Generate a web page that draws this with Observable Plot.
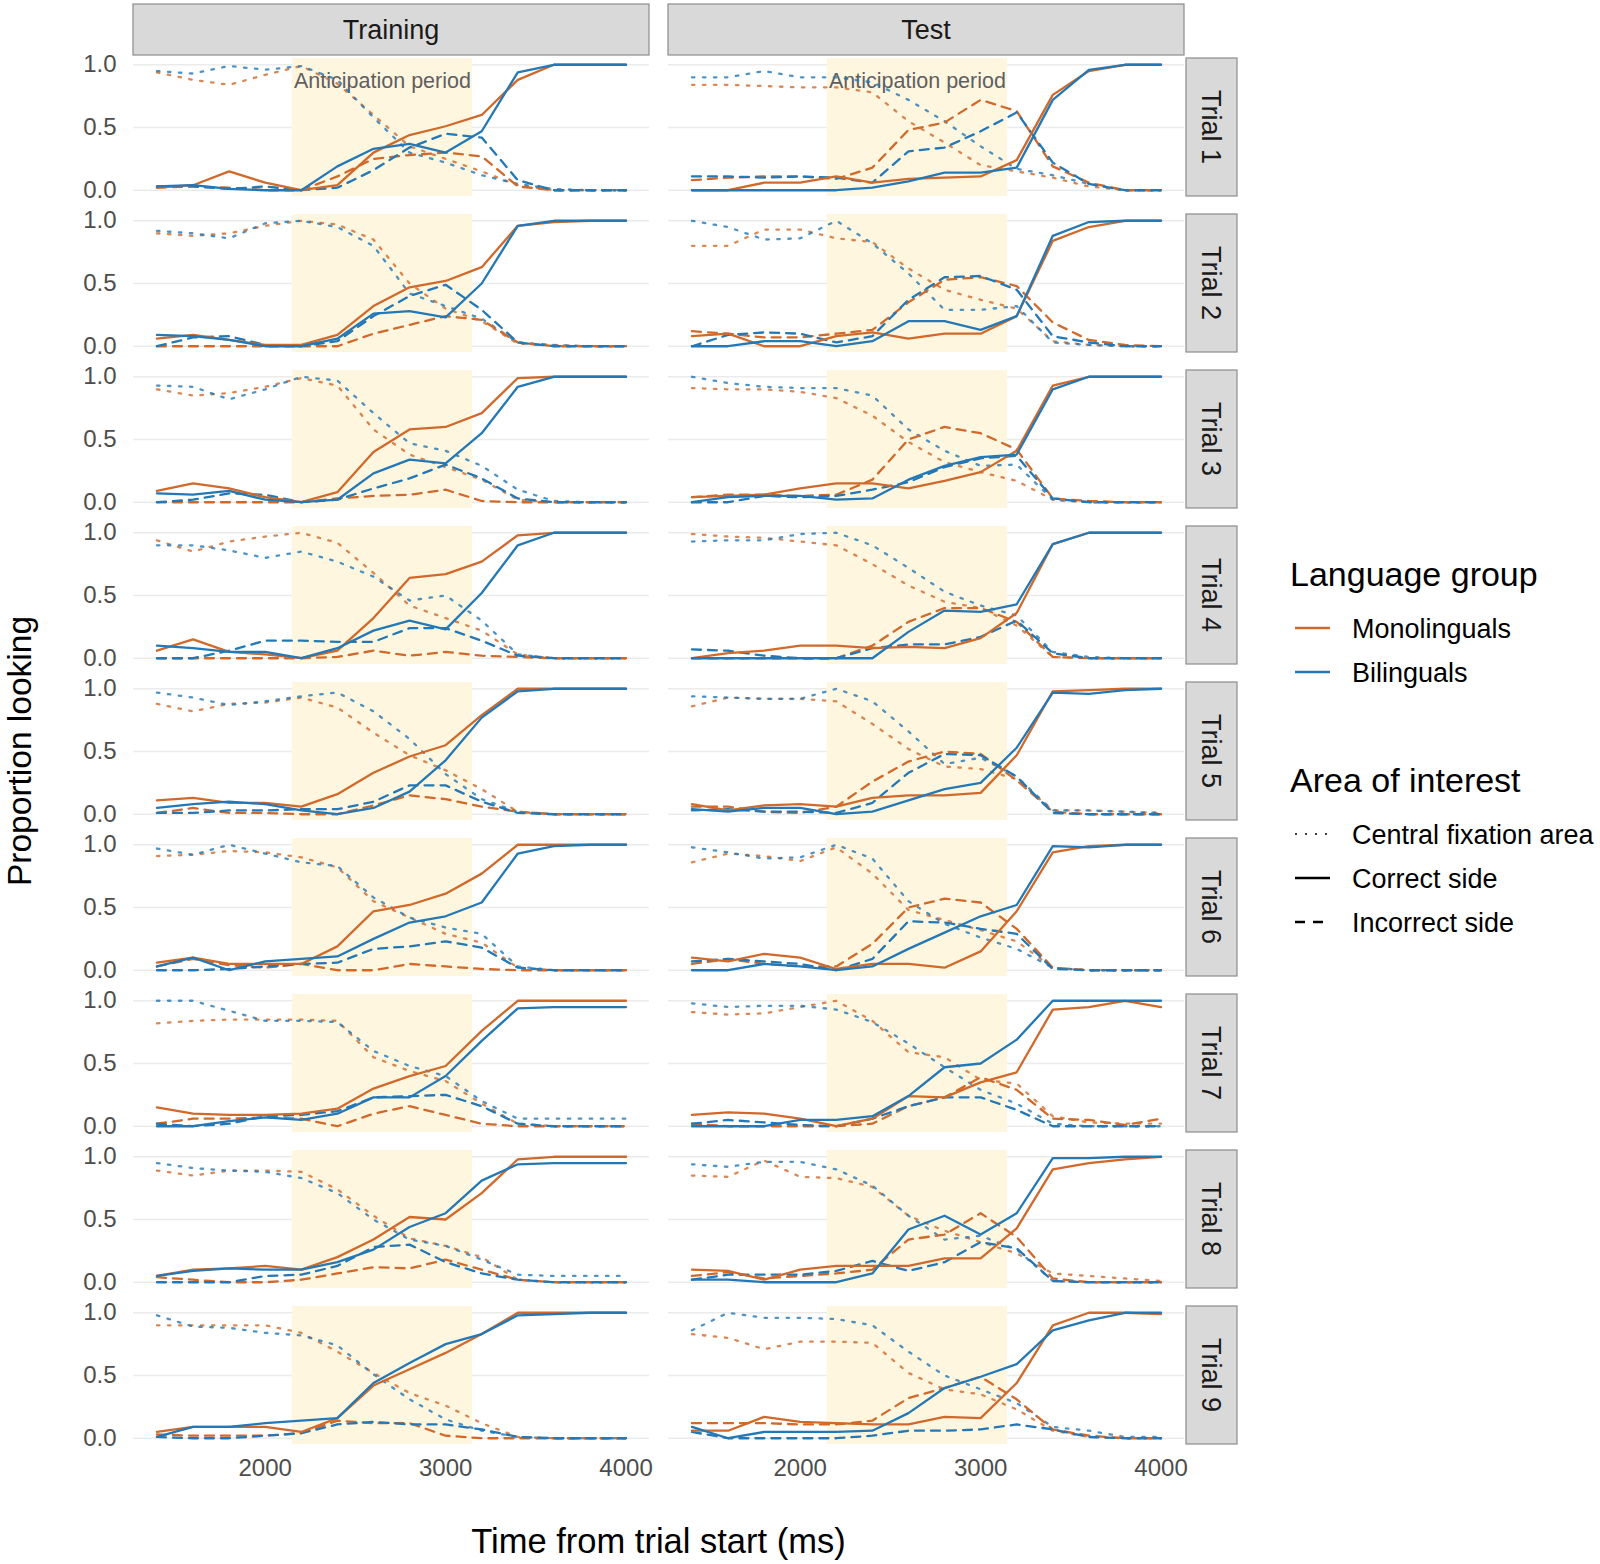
<!DOCTYPE html>
<html>
<head>
<meta charset="utf-8">
<script src="https://cdn.jsdelivr.net/npm/d3@7"></script>
<script src="https://cdn.jsdelivr.net/npm/@observablehq/plot@0.6"></script>
<style>
  body { margin: 0; background: #ffffff; }
  #chart { width: 1600px; height: 1564px; }
</style>
</head>
<body>
<div id="chart"></div>
<script>
// ---------- data ----------
const times = [1400, 1600, 1800, 2000, 2200, 2400, 2600, 2800, 3000, 3200, 3400, 3600, 3800, 4000];
const phases = ["Training", "Test"];
const trials = ["Trial 1", "Trial 2", "Trial 3", "Trial 4", "Trial 5", "Trial 6", "Trial 7", "Trial 8", "Trial 9"];
const groups = ["Monolinguals", "Bilinguals"];
const aois = ["Central fixation area", "Correct side", "Incorrect side"];
const groupColors = ["#D0692A", "#2378B5"];
const anticipationWindow = [2150, 3150];
const anticipationLabel = "Anticipation period";
const xTicks = [2000, 3000, 4000];
const yTicks = [0, 0.5, 1];

// each panel: [central Mono, central Bi, correct Mono, correct Bi, incorrect Mono, incorrect Bi]
const trainingTrial1 = [
  [0.94, 0.88, 0.84, 0.92, 0.99, 0.85, 0.60, 0.35, 0.25, 0.15, 0.04, 0, 0, 0],
  [0.95, 0.93, 0.99, 0.96, 0.99, 0.88, 0.58, 0.30, 0.22, 0.12, 0.05, 0.01, 0, 0],
  [0.02, 0.04, 0.15, 0.06, 0.00, 0.04, 0.30, 0.44, 0.51, 0.60, 0.88, 1, 1, 1],
  [0.03, 0.04, 0.01, 0.00, 0.00, 0.19, 0.33, 0.37, 0.30, 0.47, 0.94, 1, 1, 1],
  [0.02, 0.03, 0.02, 0.00, 0.00, 0.11, 0.25, 0.28, 0.30, 0.27, 0.03, 0, 0, 0],
  [0.03, 0.03, 0.01, 0.03, 0.00, 0.02, 0.16, 0.34, 0.45, 0.42, 0.08, 0, 0, 0]
];
const testTrial1 = [
  [0.84, 0.84, 0.83, 0.82, 0.82, 0.78, 0.55, 0.38, 0.20, 0.15, 0.10, 0.03, 0, 0],
  [0.90, 0.90, 0.95, 0.90, 0.90, 0.86, 0.72, 0.55, 0.35, 0.17, 0.12, 0.05, 0, 0],
  [0.00, 0.00, 0.06, 0.06, 0.11, 0.06, 0.09, 0.10, 0.11, 0.24, 0.76, 0.95, 1, 1],
  [0.00, 0.00, 0.00, 0.00, 0.00, 0.02, 0.07, 0.14, 0.14, 0.18, 0.72, 0.96, 1, 1],
  [0.08, 0.10, 0.11, 0.11, 0.09, 0.18, 0.48, 0.54, 0.72, 0.63, 0.19, 0.06, 0, 0],
  [0.11, 0.11, 0.10, 0.11, 0.10, 0.06, 0.31, 0.34, 0.47, 0.62, 0.22, 0.05, 0, 0]
];
const trainingTrial2 = [
  [0.90, 0.88, 0.90, 0.96, 1.00, 0.97, 0.85, 0.50, 0.30, 0.20, 0.02, 0.01, 0, 0],
  [0.92, 0.90, 0.86, 0.98, 1.00, 0.95, 0.80, 0.42, 0.32, 0.22, 0.03, 0.01, 0, 0],
  [0.06, 0.09, 0.05, 0.01, 0.01, 0.09, 0.32, 0.47, 0.52, 0.63, 0.96, 0.99, 1, 1],
  [0.09, 0.08, 0.05, 0.00, 0.00, 0.06, 0.26, 0.28, 0.23, 0.50, 0.96, 1, 1, 1],
  [0.00, 0.00, 0.00, 0.00, 0.00, 0.00, 0.10, 0.17, 0.24, 0.21, 0.03, 0, 0, 0],
  [0.00, 0.07, 0.08, 0.01, 0.00, 0.04, 0.24, 0.40, 0.49, 0.29, 0.03, 0, 0, 0]
];
const testTrial2 = [
  [0.80, 0.80, 0.93, 0.93, 0.86, 0.83, 0.62, 0.45, 0.37, 0.30, 0.04, 0.01, 0, 0],
  [1.00, 0.95, 0.85, 0.86, 1.00, 0.82, 0.58, 0.29, 0.29, 0.32, 0.03, 0.01, 0, 0],
  [0.08, 0.10, 0.00, 0.00, 0.08, 0.11, 0.06, 0.10, 0.10, 0.24, 0.84, 0.95, 1, 1],
  [0.00, 0.00, 0.04, 0.04, 0.00, 0.04, 0.20, 0.20, 0.13, 0.24, 0.88, 0.99, 1, 1],
  [0.12, 0.10, 0.07, 0.07, 0.10, 0.13, 0.35, 0.53, 0.55, 0.48, 0.19, 0.05, 0.01, 0],
  [0.00, 0.09, 0.11, 0.10, 0.03, 0.08, 0.37, 0.55, 0.56, 0.45, 0.08, 0.03, 0, 0]
];
const trainingTrial3 = [
  [0.90, 0.85, 0.87, 0.92, 0.99, 0.93, 0.58, 0.38, 0.28, 0.18, 0.02, 0, 0, 0],
  [0.93, 0.92, 0.82, 0.90, 1.00, 0.97, 0.71, 0.47, 0.41, 0.29, 0.10, 0.01, 0, 0],
  [0.09, 0.15, 0.11, 0.04, 0.00, 0.08, 0.40, 0.58, 0.60, 0.71, 0.99, 1, 1, 1],
  [0.07, 0.06, 0.09, 0.02, 0.00, 0.02, 0.23, 0.34, 0.31, 0.55, 0.92, 1, 1, 1],
  [0.00, 0.00, 0.00, 0.00, 0.00, 0.03, 0.05, 0.06, 0.10, 0.01, 0, 0, 0, 0],
  [0.00, 0.02, 0.07, 0.06, 0.00, 0.02, 0.11, 0.19, 0.30, 0.19, 0.03, 0, 0, 0]
];
const testTrial3 = [
  [0.91, 0.90, 0.90, 0.88, 0.83, 0.69, 0.48, 0.32, 0.24, 0.17, 0.02, 0, 0, 0],
  [1.00, 0.95, 0.92, 0.91, 0.91, 0.85, 0.58, 0.41, 0.29, 0.30, 0.02, 0, 0, 0],
  [0.04, 0.05, 0.06, 0.11, 0.15, 0.15, 0.11, 0.17, 0.24, 0.41, 0.93, 1, 1, 1],
  [0.00, 0.04, 0.05, 0.05, 0.02, 0.03, 0.18, 0.29, 0.36, 0.38, 0.90, 1, 1, 1],
  [0.04, 0.06, 0.06, 0.05, 0.06, 0.18, 0.50, 0.60, 0.55, 0.42, 0.03, 0.01, 0, 0],
  [0.00, 0.00, 0.05, 0.04, 0.05, 0.10, 0.16, 0.28, 0.35, 0.37, 0.03, 0, 0, 0]
];
const trainingTrial4 = [
  [0.94, 0.85, 0.93, 0.97, 1.00, 0.92, 0.68, 0.42, 0.32, 0.22, 0.03, 0, 0, 0],
  [0.90, 0.90, 0.86, 0.80, 0.85, 0.77, 0.65, 0.46, 0.50, 0.30, 0.03, 0, 0, 0],
  [0.06, 0.15, 0.05, 0.03, 0.00, 0.06, 0.32, 0.64, 0.67, 0.77, 0.98, 1, 1, 1],
  [0.10, 0.08, 0.05, 0.05, 0.00, 0.08, 0.22, 0.30, 0.23, 0.52, 0.90, 1, 1, 1],
  [0.00, 0.00, 0.00, 0.00, 0.00, 0.01, 0.06, 0.02, 0.05, 0.02, 0.01, 0, 0, 0],
  [0.00, 0.00, 0.06, 0.14, 0.14, 0.13, 0.13, 0.24, 0.24, 0.14, 0.02, 0, 0, 0]
];
const testTrial4 = [
  [0.99, 0.97, 0.96, 0.93, 0.90, 0.75, 0.58, 0.45, 0.40, 0.26, 0.01, 0, 0, 0],
  [0.93, 0.94, 0.94, 0.99, 1.00, 0.90, 0.72, 0.53, 0.42, 0.34, 0.05, 0.01, 0, 0],
  [0.00, 0.04, 0.06, 0.10, 0.10, 0.08, 0.09, 0.08, 0.16, 0.36, 0.91, 1, 1, 1],
  [0.00, 0.00, 0.00, 0.00, 0.00, 0.00, 0.21, 0.38, 0.37, 0.43, 0.91, 1, 1, 1],
  [0.00, 0.00, 0.00, 0.00, 0.00, 0.10, 0.29, 0.40, 0.40, 0.29, 0.01, 0, 0, 0],
  [0.07, 0.06, 0.02, 0.00, 0.00, 0.08, 0.11, 0.11, 0.17, 0.30, 0.04, 0, 0, 0]
];
const trainingTrial5 = [
  [0.88, 0.82, 0.88, 0.89, 0.93, 0.85, 0.65, 0.47, 0.35, 0.20, 0.02, 0, 0, 0],
  [0.97, 0.93, 0.87, 0.90, 0.94, 0.97, 0.82, 0.60, 0.32, 0.12, 0.02, 0, 0, 0],
  [0.11, 0.13, 0.09, 0.09, 0.06, 0.16, 0.33, 0.46, 0.55, 0.79, 1, 1, 1, 1],
  [0.05, 0.08, 0.10, 0.08, 0.03, 0.00, 0.05, 0.18, 0.43, 0.77, 0.98, 1, 1, 1],
  [0.01, 0.05, 0.01, 0.01, 0.00, 0.00, 0.07, 0.15, 0.12, 0.06, 0.02, 0, 0, 0],
  [0.01, 0.01, 0.03, 0.03, 0.04, 0.04, 0.10, 0.23, 0.23, 0.10, 0.01, 0, 0, 0]
];
const testTrial5 = [
  [0.86, 0.93, 0.92, 0.92, 0.90, 0.72, 0.52, 0.38, 0.36, 0.28, 0.03, 0.03, 0.02, 0.01],
  [0.94, 0.93, 0.92, 0.92, 1.00, 0.90, 0.66, 0.40, 0.45, 0.30, 0.03, 0.03, 0.02, 0.01],
  [0.08, 0.03, 0.07, 0.08, 0.06, 0.13, 0.15, 0.15, 0.17, 0.47, 0.98, 0.99, 1, 1],
  [0.04, 0.02, 0.05, 0.05, 0.00, 0.02, 0.11, 0.20, 0.25, 0.53, 0.97, 0.96, 0.99, 1],
  [0.06, 0.06, 0.02, 0.01, 0.06, 0.26, 0.42, 0.50, 0.48, 0.27, 0.02, 0, 0, 0],
  [0.03, 0.04, 0.02, 0.02, 0.01, 0.09, 0.33, 0.48, 0.47, 0.30, 0.01, 0, 0, 0]
];
const trainingTrial6 = [
  [0.91, 0.92, 0.95, 0.94, 0.90, 0.82, 0.55, 0.42, 0.29, 0.22, 0.02, 0, 0, 0],
  [0.97, 0.92, 1.00, 0.93, 0.86, 0.83, 0.58, 0.42, 0.34, 0.29, 0.03, 0, 0, 0],
  [0.06, 0.10, 0.05, 0.05, 0.05, 0.19, 0.47, 0.52, 0.61, 0.77, 1, 1, 1, 1],
  [0.03, 0.10, 0.00, 0.07, 0.09, 0.11, 0.25, 0.38, 0.43, 0.54, 0.93, 0.99, 1, 1],
  [0.03, 0.09, 0.04, 0.02, 0.05, 0.00, 0.00, 0.05, 0.03, 0.01, 0, 0, 0, 0],
  [0.00, 0.00, 0.01, 0.03, 0.05, 0.06, 0.17, 0.19, 0.23, 0.18, 0.02, 0, 0, 0]
];
const testTrial6 = [
  [0.86, 0.93, 0.91, 0.87, 0.98, 0.77, 0.48, 0.40, 0.32, 0.23, 0.02, 0, 0, 0],
  [0.98, 0.94, 0.89, 0.90, 1.00, 0.89, 0.55, 0.37, 0.26, 0.17, 0.02, 0, 0, 0],
  [0.10, 0.07, 0.13, 0.10, 0.01, 0.05, 0.05, 0.02, 0.15, 0.47, 0.94, 0.99, 1, 1],
  [0.00, 0.00, 0.05, 0.03, 0.00, 0.03, 0.17, 0.30, 0.43, 0.52, 0.99, 0.98, 1, 1],
  [0.05, 0.09, 0.05, 0.03, 0.03, 0.21, 0.50, 0.57, 0.54, 0.33, 0.02, 0, 0, 0],
  [0.07, 0.09, 0.07, 0.05, 0.00, 0.09, 0.39, 0.38, 0.33, 0.29, 0.01, 0, 0, 0]
];
const trainingTrial7 = [
  [0.82, 0.84, 0.85, 0.85, 0.85, 0.84, 0.55, 0.44, 0.36, 0.18, 0.02, 0, 0, 0],
  [1.00, 1.00, 0.92, 0.84, 0.84, 0.83, 0.60, 0.48, 0.40, 0.20, 0.06, 0.06, 0.06, 0.06],
  [0.15, 0.10, 0.09, 0.09, 0.10, 0.14, 0.30, 0.40, 0.48, 0.76, 1, 1, 1, 1],
  [0.00, 0.00, 0.04, 0.07, 0.05, 0.10, 0.23, 0.23, 0.40, 0.68, 0.94, 0.95, 0.95, 0.95],
  [0.02, 0.06, 0.06, 0.07, 0.06, 0.00, 0.10, 0.16, 0.09, 0.02, 0, 0, 0, 0],
  [0.02, 0.00, 0.02, 0.08, 0.09, 0.12, 0.23, 0.24, 0.25, 0.16, 0.02, 0, 0, 0]
];
const testTrial7 = [
  [0.91, 0.89, 0.90, 0.95, 1.00, 0.84, 0.59, 0.55, 0.37, 0.34, 0.08, 0.03, 0.02, 0.02],
  [0.98, 0.95, 0.96, 0.96, 0.93, 0.83, 0.66, 0.47, 0.29, 0.18, 0.02, 0, 0, 0],
  [0.09, 0.11, 0.10, 0.06, 0.00, 0.06, 0.24, 0.23, 0.35, 0.43, 0.93, 0.95, 1, 0.95],
  [0.00, 0.00, 0.00, 0.05, 0.05, 0.08, 0.24, 0.47, 0.50, 0.69, 1, 1, 1, 1],
  [0.02, 0.00, 0.00, 0.00, 0.00, 0.02, 0.16, 0.23, 0.39, 0.29, 0.06, 0.05, 0.01, 0.06],
  [0.02, 0.05, 0.03, 0.01, 0.00, 0.06, 0.16, 0.23, 0.23, 0.13, 0, 0, 0, 0]
];
const trainingTrial8 = [
  [0.89, 0.85, 0.89, 0.89, 0.88, 0.74, 0.53, 0.35, 0.29, 0.20, 0.02, 0, 0, 0],
  [0.95, 0.91, 0.89, 0.88, 0.83, 0.71, 0.50, 0.34, 0.29, 0.18, 0.06, 0.05, 0.05, 0.05],
  [0.05, 0.10, 0.11, 0.13, 0.10, 0.20, 0.34, 0.52, 0.50, 0.71, 0.98, 1, 1, 1],
  [0.05, 0.09, 0.11, 0.10, 0.10, 0.16, 0.26, 0.44, 0.55, 0.81, 0.94, 0.95, 0.95, 0.95],
  [0.04, 0.02, 0.00, 0.00, 0.02, 0.07, 0.12, 0.11, 0.18, 0.10, 0.02, 0, 0, 0],
  [0.00, 0.00, 0.00, 0.05, 0.06, 0.13, 0.28, 0.30, 0.16, 0.07, 0.02, 0, 0, 0]
];
const testTrial8 = [
  [0.85, 0.84, 0.97, 0.84, 0.83, 0.76, 0.53, 0.41, 0.32, 0.23, 0.07, 0.05, 0.03, 0.01],
  [0.94, 0.92, 0.96, 0.96, 0.90, 0.77, 0.53, 0.34, 0.37, 0.26, 0.01, 0, 0, 0],
  [0.10, 0.09, 0.02, 0.10, 0.13, 0.13, 0.13, 0.19, 0.19, 0.43, 0.90, 0.95, 0.98, 1],
  [0.02, 0.02, 0.00, 0.00, 0.00, 0.07, 0.42, 0.53, 0.38, 0.55, 0.99, 0.99, 1, 1],
  [0.05, 0.08, 0.03, 0.05, 0.07, 0.10, 0.34, 0.38, 0.55, 0.36, 0.03, 0, 0, 0],
  [0.02, 0.06, 0.06, 0.06, 0.09, 0.17, 0.09, 0.16, 0.32, 0.27, 0.01, 0, 0, 0]
];
const trainingTrial9 = [
  [0.90, 0.90, 0.90, 0.90, 0.84, 0.69, 0.52, 0.36, 0.26, 0.12, 0.01, 0, 0, 0],
  [0.98, 0.89, 0.88, 0.84, 0.82, 0.74, 0.51, 0.31, 0.15, 0.06, 0.01, 0, 0, 0],
  [0.05, 0.09, 0.09, 0.09, 0.05, 0.16, 0.42, 0.55, 0.68, 0.83, 1, 1, 1, 1],
  [0.01, 0.09, 0.09, 0.12, 0.14, 0.16, 0.44, 0.60, 0.75, 0.83, 0.98, 0.99, 1, 1],
  [0.03, 0.02, 0.02, 0.02, 0.04, 0.14, 0.12, 0.12, 0.02, 0, 0, 0, 0, 0],
  [0.01, 0.00, 0.00, 0.02, 0.04, 0.11, 0.13, 0.11, 0.11, 0.07, 0.01, 0, 0, 0]
];
const testTrial9 = [
  [0.83, 0.80, 0.71, 0.77, 0.77, 0.76, 0.52, 0.39, 0.35, 0.23, 0.06, 0.01, 0, 0],
  [0.86, 1.00, 0.96, 0.96, 0.95, 0.90, 0.69, 0.50, 0.39, 0.28, 0.09, 0.06, 0.01, 0.01],
  [0.06, 0.06, 0.17, 0.13, 0.12, 0.11, 0.11, 0.17, 0.16, 0.44, 0.90, 1, 1, 0.99],
  [0.09, 0.00, 0.05, 0.05, 0.05, 0.06, 0.20, 0.40, 0.49, 0.59, 0.86, 0.94, 1, 1],
  [0.12, 0.12, 0.12, 0.11, 0.11, 0.14, 0.32, 0.40, 0.49, 0.31, 0.07, 0.02, 0, 0],
  [0.05, 0.00, 0.00, 0.00, 0.00, 0.02, 0.06, 0.06, 0.07, 0.11, 0.07, 0.01, 0, 0]
];

const trainingPanels = [trainingTrial1, trainingTrial2, trainingTrial3, trainingTrial4, trainingTrial5, trainingTrial6, trainingTrial7, trainingTrial8, trainingTrial9];
const testPanels = [testTrial1, testTrial2, testTrial3, testTrial4, testTrial5, testTrial6, testTrial7, testTrial8, testTrial9];

// ---------- tidy table ----------
const rows = [];
[trainingPanels, testPanels].forEach((panels, pi) => {
  panels.forEach((panel, ti) => {
    panel.forEach((series, si) => {
      const aoi = aois[Math.floor(si / 2)];
      const group = groups[si % 2];
      series.forEach((v, k) => rows.push({phase: phases[pi], trial: trials[ti], aoi, group, time: times[k], value: v}));
    });
  });
});
const annotationRows = phases.map(p => ({phase: p, trial: trials[0], label: anticipationLabel}));

const aoiStyles = {
  "Central fixation area": {strokeDasharray: "2.5,8.5", strokeWidth: 2.3, strokeOpacity: 0.8},
  "Incorrect side": {strokeDasharray: "9,7", strokeWidth: 2.3, strokeOpacity: 1},
  "Correct side": {strokeDasharray: null, strokeWidth: 2.3, strokeOpacity: 1}
};
const drawOrder = ["Central fixation area", "Incorrect side", "Correct side"];

const FONT = "'Liberation Sans', Arial, Helvetica, sans-serif";

const chart = Plot.plot({
  width: 1600,
  height: 1564,
  marginTop: 57,
  marginBottom: 119,
  marginLeft: 133,
  marginRight: 415,
  style: {fontFamily: FONT, background: "#ffffff"},
  fx: {domain: phases, paddingInner: 0.0355, paddingOuter: 0, axis: null},
  fy: {domain: trials, paddingInner: 0.1168, paddingOuter: 0, axis: null},
  x: {domain: [1270, 4130]},
  y: {domain: [-0.05, 1.05]},
  color: {domain: groups, range: groupColors},
  marks: [
    Plot.gridY(yTicks, {stroke: "#EBEBEB", strokeOpacity: 1, strokeWidth: 1.4}),
    Plot.rect([anticipationWindow], {x1: d => d[0], x2: d => d[1], fill: "#FFF6E0"}),
    Plot.text(annotationRows, {
      fx: "phase", fy: "trial",
      x: () => (anticipationWindow[0] + anticipationWindow[1]) / 2,
      frameAnchor: "top", dy: 23, lineAnchor: "middle",
      text: "label", fontSize: 21.5, fill: "#5F5F5F"
    }),
    ...drawOrder.map(a => Plot.line(rows.filter(d => d.aoi === a), {
      fx: "phase", fy: "trial", x: "time", y: "value", z: "group", stroke: "group",
      ...aoiStyles[a], strokeLinejoin: "round"
    })),
    Plot.axisX({ticks: xTicks, tickSize: 0, tickPadding: 14, fontSize: 24, color: "#4D4D4D", tickFormat: d3.format("d"), label: null}),
    Plot.axisY({ticks: yTicks, tickSize: 0, tickPadding: 17, fontSize: 24, color: "#4D4D4D", tickFormat: d3.format(".1f"), label: null})
  ]
});

document.getElementById("chart").appendChild(chart);

// ---------- strips, titles, legend ----------
const svg = d3.select(chart);
const fxs = chart.scale("fx");
const fys = chart.scale("fy");
const bwX = fxs.bandwidth, bwY = fys.bandwidth;
const g = svg.append("g").attr("font-family", FONT);

phases.forEach(p => {
  const x0 = fxs.apply(p);
  g.append("rect").attr("x", x0).attr("y", 4).attr("width", bwX).attr("height", 51)
    .attr("fill", "#D9D9D9").attr("stroke", "#8C8C8C").attr("stroke-width", 1.2);
  g.append("text").attr("x", x0 + bwX / 2).attr("y", 29.5).attr("dy", "0.36em")
    .attr("text-anchor", "middle").attr("font-size", 27).attr("fill", "#1A1A1A").text(p);
});
const xr = fxs.apply(phases[1]) + bwX + 2;
trials.forEach(t => {
  const y0 = fys.apply(t);
  g.append("rect").attr("x", xr).attr("y", y0).attr("width", 51).attr("height", bwY)
    .attr("fill", "#D9D9D9").attr("stroke", "#8C8C8C").attr("stroke-width", 1.2);
  g.append("text").attr("transform", `translate(${xr + 25.5},${y0 + bwY / 2}) rotate(90)`)
    .attr("dy", "0.36em").attr("text-anchor", "middle").attr("font-size", 27).attr("fill", "#1A1A1A").text(t);
});

// axis titles
const panelLeft = fxs.apply(phases[0]);
const panelRight = fxs.apply(phases[1]) + bwX;
const panelTop = fys.apply(trials[0]);
const panelBottom = fys.apply(trials[trials.length - 1]) + bwY;
g.append("text").attr("x", (panelLeft + panelRight) / 2).attr("y", 1541).attr("dy", "0.36em")
  .attr("text-anchor", "middle").attr("font-size", 34.5).attr("fill", "#000").text("Time from trial start (ms)");
g.append("text").attr("transform", `translate(19,${(panelTop + panelBottom) / 2}) rotate(-90)`)
  .attr("dy", "0.36em").attr("text-anchor", "middle").attr("font-size", 33.5).attr("fill", "#000").text("Proportion looking");

// legend
const lg = g.append("g").attr("text-anchor", "start");
lg.append("text").attr("x", 1290).attr("y", 574).attr("dy", "0.36em").attr("text-anchor", "start")
  .attr("font-size", 34).attr("fill", "#000").text("Language group");
groups.forEach((grp, i) => {
  const y = 628 + i * 44;
  lg.append("line").attr("x1", 1295).attr("x2", 1330).attr("y1", y).attr("y2", y)
    .attr("stroke", groupColors[i]).attr("stroke-width", 2.3);
  lg.append("text").attr("x", 1352).attr("y", y).attr("dy", "0.36em").attr("text-anchor", "start")
    .attr("font-size", 27).attr("fill", "#000").text(grp);
});
lg.append("text").attr("x", 1290).attr("y", 780).attr("dy", "0.36em").attr("text-anchor", "start")
  .attr("font-size", 34).attr("fill", "#000").text("Area of interest");
const legendDash = {"Central fixation area": "2,8", "Correct side": null, "Incorrect side": "10,8"};
aois.forEach((a, i) => {
  const y = 834 + i * 44;
  const ln = lg.append("line").attr("x1", 1295).attr("x2", 1330).attr("y1", y).attr("y2", y)
    .attr("stroke", "#000").attr("stroke-width", a === "Central fixation area" ? 1.6 : 2.3);
  if (legendDash[a]) ln.attr("stroke-dasharray", legendDash[a]);
  lg.append("text").attr("x", 1352).attr("y", y).attr("dy", "0.36em").attr("text-anchor", "start")
    .attr("font-size", 27).attr("fill", "#000").text(a);
});
</script>
</body>
</html>
